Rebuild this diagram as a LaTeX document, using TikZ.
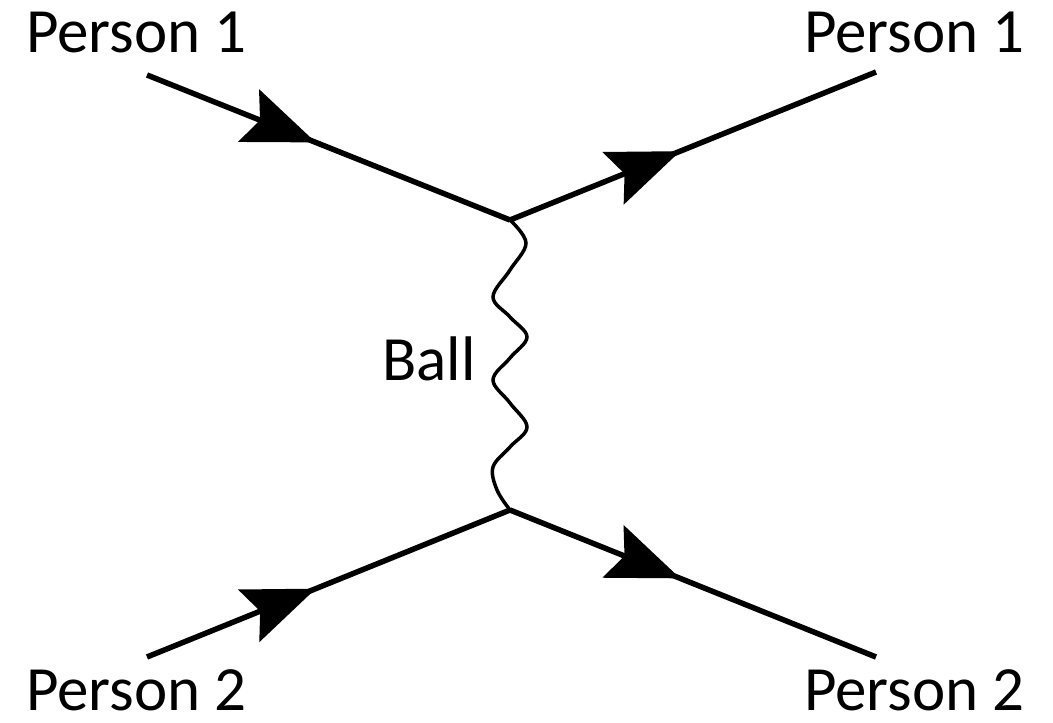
\documentclass[tikz,border=0pt]{standalone}
\usepackage{fontspec}
\setmainfont{Carlito}
\usetikzlibrary{arrows.meta,decorations.markings}
\begin{document}
\begin{tikzpicture}[x=1pt,y=-1pt,
  lbl/.style={inner sep=0pt,anchor=base west,font=\fontsize{63}{75}\selectfont},
  fermion/.style={line width=5.5pt,
    postaction={decorate,decoration={markings,
      mark=at position 0.465 with {\arrow{Stealth[length=72pt,width=56pt,inset=12pt]}}}}},
  photon/.style={line width=3.5pt}]
\useasboundingbox (0,0) rectangle (1053,723);
\coordinate (a) at (147,75);
\coordinate (b) at (876,72);
\coordinate (c) at (147,657);
\coordinate (d) at (876,657);
\coordinate (v1) at (510,220);
\coordinate (v2) at (510,510);
\draw[fermion] (a) -- (v1);
\draw[fermion] (v1) -- (b);
\draw[fermion] (c) -- (v2);
\draw[fermion] (v2) -- (d);
\draw[photon] plot[smooth,tension=0.6] coordinates {(510,220) (526,243) (510,270) (493,297) (510,317) (527,337) (510,358) (493,380) (510,403) (527,427) (510,447) (493,467) (497,490) (510,510)};
\node[lbl] (p1l) at (26,52) {Person 1};
\node[lbl] (p1r) at (804,52) {Person 1};
\node[lbl] (p2l) at (26,710) {Person 2};
\node[lbl] (p2r) at (804,710) {Person 2};
\node[lbl] (ball) at (382,380) {Ball};
\end{tikzpicture}
\end{document}
